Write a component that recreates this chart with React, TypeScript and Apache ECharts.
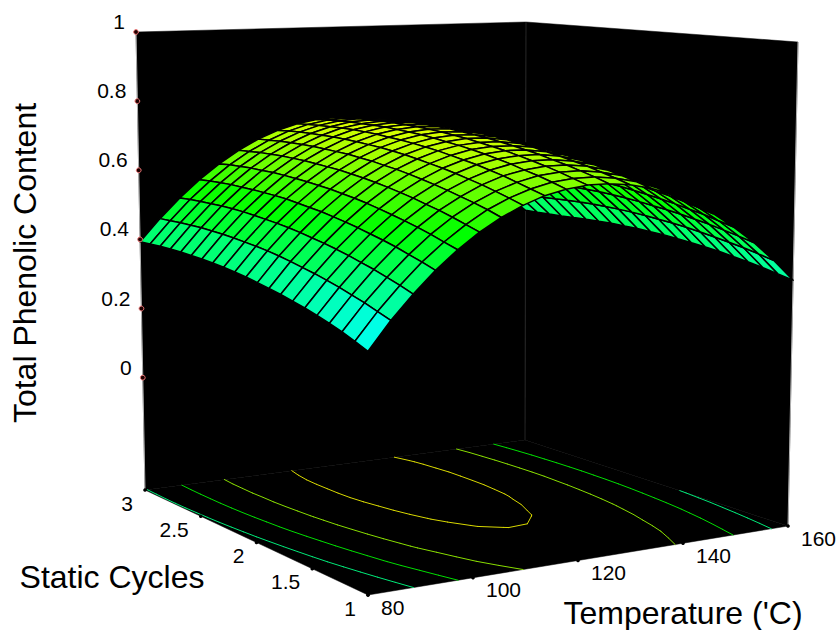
import React, { useEffect, useRef } from "react";
import * as echarts from "echarts";

const temperatures = [80, 84, 88, 92, 96, 100, 104, 108, 112, 116, 120, 124, 128, 132, 136, 140, 144, 148, 152, 156, 160];
const cycles = [1, 1.1, 1.2, 1.3, 1.4, 1.5, 1.6, 1.7, 1.8, 1.9, 2, 2.1, 2.2, 2.3, 2.4, 2.5, 2.6, 2.7, 2.8, 2.9, 3];
// one row per cycles value, one column per temperature
const phenolic = [
  [0.272, 0.342, 0.402, 0.456, 0.503, 0.543, 0.576, 0.603, 0.624, 0.637, 0.644, 0.644, 0.638, 0.625, 0.605, 0.579, 0.546, 0.506, 0.46, 0.407, 0.348],
  [0.287, 0.355, 0.415, 0.469, 0.515, 0.555, 0.589, 0.615, 0.635, 0.649, 0.655, 0.656, 0.649, 0.636, 0.616, 0.589, 0.556, 0.516, 0.47, 0.417, 0.357],
  [0.301, 0.368, 0.427, 0.48, 0.527, 0.567, 0.6, 0.626, 0.646, 0.66, 0.666, 0.666, 0.659, 0.646, 0.626, 0.599, 0.566, 0.526, 0.479, 0.426, 0.366],
  [0.313, 0.379, 0.439, 0.492, 0.538, 0.578, 0.61, 0.637, 0.657, 0.669, 0.676, 0.676, 0.669, 0.655, 0.635, 0.608, 0.575, 0.534, 0.488, 0.434, 0.374],
  [0.324, 0.39, 0.449, 0.502, 0.548, 0.587, 0.62, 0.646, 0.666, 0.679, 0.685, 0.684, 0.677, 0.664, 0.643, 0.616, 0.582, 0.542, 0.495, 0.441, 0.381],
  [0.334, 0.4, 0.459, 0.511, 0.557, 0.597, 0.629, 0.655, 0.675, 0.687, 0.693, 0.693, 0.685, 0.671, 0.651, 0.624, 0.59, 0.549, 0.502, 0.448, 0.388],
  [0.343, 0.409, 0.468, 0.52, 0.566, 0.605, 0.637, 0.663, 0.682, 0.695, 0.701, 0.7, 0.692, 0.678, 0.658, 0.63, 0.596, 0.555, 0.508, 0.454, 0.393],
  [0.352, 0.417, 0.476, 0.528, 0.574, 0.613, 0.645, 0.67, 0.689, 0.702, 0.707, 0.706, 0.699, 0.684, 0.664, 0.636, 0.602, 0.561, 0.513, 0.459, 0.398],
  [0.359, 0.425, 0.483, 0.535, 0.581, 0.62, 0.652, 0.677, 0.696, 0.708, 0.713, 0.712, 0.704, 0.69, 0.669, 0.641, 0.607, 0.566, 0.518, 0.463, 0.402],
  [0.366, 0.432, 0.49, 0.542, 0.587, 0.626, 0.657, 0.683, 0.701, 0.713, 0.719, 0.717, 0.709, 0.695, 0.673, 0.645, 0.611, 0.57, 0.522, 0.467, 0.406],
  [0.373, 0.438, 0.496, 0.547, 0.593, 0.631, 0.663, 0.688, 0.706, 0.718, 0.723, 0.721, 0.713, 0.698, 0.677, 0.649, 0.614, 0.573, 0.525, 0.47, 0.408],
  [0.378, 0.443, 0.501, 0.552, 0.597, 0.636, 0.667, 0.692, 0.71, 0.722, 0.727, 0.725, 0.717, 0.702, 0.68, 0.652, 0.617, 0.575, 0.527, 0.472, 0.41],
  [0.383, 0.447, 0.505, 0.557, 0.601, 0.639, 0.671, 0.695, 0.713, 0.725, 0.73, 0.728, 0.719, 0.704, 0.682, 0.654, 0.618, 0.577, 0.528, 0.473, 0.411],
  [0.387, 0.451, 0.509, 0.56, 0.604, 0.642, 0.673, 0.698, 0.716, 0.727, 0.732, 0.73, 0.721, 0.706, 0.683, 0.655, 0.62, 0.578, 0.529, 0.474, 0.412],
  [0.39, 0.454, 0.512, 0.562, 0.607, 0.645, 0.675, 0.7, 0.718, 0.729, 0.733, 0.731, 0.722, 0.706, 0.684, 0.655, 0.62, 0.578, 0.529, 0.473, 0.411],
  [0.392, 0.456, 0.514, 0.564, 0.609, 0.646, 0.677, 0.701, 0.719, 0.729, 0.734, 0.731, 0.722, 0.706, 0.684, 0.655, 0.619, 0.577, 0.528, 0.472, 0.41],
  [0.394, 0.458, 0.515, 0.565, 0.609, 0.647, 0.677, 0.701, 0.719, 0.729, 0.733, 0.731, 0.721, 0.706, 0.683, 0.654, 0.618, 0.575, 0.526, 0.47, 0.408],
  [0.395, 0.458, 0.515, 0.566, 0.61, 0.647, 0.677, 0.701, 0.718, 0.729, 0.732, 0.73, 0.72, 0.704, 0.681, 0.652, 0.616, 0.573, 0.524, 0.468, 0.406],
  [0.395, 0.458, 0.515, 0.565, 0.609, 0.646, 0.676, 0.7, 0.717, 0.727, 0.731, 0.728, 0.718, 0.702, 0.679, 0.649, 0.613, 0.57, 0.521, 0.464, 0.405],
  [0.394, 0.457, 0.514, 0.564, 0.608, 0.644, 0.674, 0.698, 0.715, 0.725, 0.728, 0.725, 0.715, 0.699, 0.676, 0.646, 0.61, 0.567, 0.517, 0.46, 0.404],
  [0.393, 0.456, 0.512, 0.562, 0.605, 0.642, 0.672, 0.695, 0.712, 0.722, 0.725, 0.722, 0.712, 0.695, 0.672, 0.642, 0.605, 0.562, 0.512, 0.455, 0.403],
];
const contourLevels = [0.4, 0.5, 0.6, 0.7];
const contourColors = ["#00e878", "#00dd00", "#88dd00", "#d8d800"];
const zTicks = [0, 0.2, 0.4, 0.6, 0.8, 1];
const tempTicks = [80, 100, 120, 140, 160];
const cycleTicks = [1, 1.5, 2, 2.5, 3];
const Z_MIN = -0.325;
const Z_MAX = 1;
const CYAN_AT = 0.29;
const GREEN_AT = 0.53;
const YELLOW_AT = 0.76;

const FONT = "Liberation Sans, Arial, sans-serif";
type Pt = [number, number];

// projection frame of the box: corners at (temp min,cycle min), (max,min), (max,max), (min,max)
const floorFrame: Pt[] = [[368, 595], [788, 526], [525, 440], [145, 490]];
const topFrame: Pt[] = [[368, 54], [798, 42], [526, 22], [136, 32]];

function quadMap(q: Pt[]) {
  const [[x0, y0], [x1, y1], [x2, y2], [x3, y3]] = q;
  const dx1 = x1 - x2, dx2 = x3 - x2, sx = x0 - x1 + x2 - x3;
  const dy1 = y1 - y2, dy2 = y3 - y2, sy = y0 - y1 + y2 - y3;
  const den = dx1 * dy2 - dx2 * dy1;
  const g = (sx * dy2 - dx2 * sy) / den;
  const h = (dx1 * sy - sx * dy1) / den;
  const a = x1 - x0 + g * x1, b = x3 - x0 + h * x3;
  const d = y1 - y0 + g * y1, e = y3 - y0 + h * y3;
  return (u: number, v: number): Pt => {
    const w = 1 + g * u + h * v;
    return [(a * u + b * v + x0) / w, (d * u + e * v + y0) / w];
  };
}
const floorMap = quadMap(floorFrame);
const topMap = quadMap(topFrame);

const uOf = (t: number) => (t - temperatures[0]) / (temperatures[temperatures.length - 1] - temperatures[0]);
const vOf = (c: number) => (c - cycles[0]) / (cycles[cycles.length - 1] - cycles[0]);

function project(u: number, v: number, z: number): Pt {
  const t = (z - Z_MIN) / (Z_MAX - Z_MIN);
  const f = floorMap(u, v), p = topMap(u, v);
  return [f[0] + (p[0] - f[0]) * t, f[1] + (p[1] - f[1]) * t];
}
const mix = (a: Pt, b: Pt, t: number): Pt => [a[0] + (b[0] - a[0]) * t, a[1] + (b[1] - a[1]) * t];

function heat(z: number) {
  const c = (n: number) => Math.round(Math.max(0, Math.min(1, n)) * 255);
  if (z < GREEN_AT) return `rgb(0,255,${c((GREEN_AT - z) / (GREEN_AT - CYAN_AT))})`;
  return `rgb(${c((z - GREEN_AT) / (YELLOW_AT - GREEN_AT))},255,0)`;
}

// marching squares on the surface grid, segments in (u,v)
function contourSegments(level: number) {
  const segs: [Pt, Pt][] = [];
  const nU = temperatures.length, nV = cycles.length;
  for (let j = 0; j < nV - 1; j++) {
    for (let i = 0; i < nU - 1; i++) {
      const corners: [number, number, number][] = [
        [i, j, phenolic[j][i]],
        [i + 1, j, phenolic[j][i + 1]],
        [i + 1, j + 1, phenolic[j + 1][i + 1]],
        [i, j + 1, phenolic[j + 1][i]],
      ];
      const hits: Pt[] = [];
      for (let k = 0; k < 4; k++) {
        const a = corners[k], b = corners[(k + 1) % 4];
        if ((a[2] < level) !== (b[2] < level)) {
          const t = (level - a[2]) / (b[2] - a[2]);
          hits.push([(a[0] + (b[0] - a[0]) * t) / (nU - 1), (a[1] + (b[1] - a[1]) * t) / (nV - 1)]);
        }
      }
      if (hits.length >= 2) segs.push([hits[0], hits[1]]);
      if (hits.length === 4) segs.push([hits[2], hits[3]]);
    }
  }
  return segs;
}

export default function App() {
  const ref = useRef<HTMLDivElement>(null);
  useEffect(() => {
    if (!ref.current) return;
    const chart = echarts.init(ref.current, undefined, { renderer: "svg" });

    const px = (api: any, p: Pt): Pt => api.coord(p) as Pt;

    const cells: number[][] = [];
    for (let i = temperatures.length - 2; i >= 0; i--) {
      for (let j = cycles.length - 2; j >= 0; j--) cells.push([i, j]);
    }

    const leftEdge = (c: number) => mix(floorFrame[0], floorFrame[3], vOf(c));
    const frontEdge = (t: number) => mix(floorFrame[0], floorFrame[1], uOf(t));

    chart.setOption({
      animation: false,
      backgroundColor: "#ffffff",
      grid: { left: 0, right: 0, top: 0, bottom: 0 },
      xAxis: { type: "value", min: 0, max: 837, show: false },
      yAxis: { type: "value", min: 0, max: 630, inverse: true, show: false },
      series: [
        {
          type: "custom",
          name: "box",
          coordinateSystem: "cartesian2d",
          silent: true,
          clip: false,
          data: [[0]],
          encode: { x: 0, y: 0 },
          renderItem: (_p: any, api: any) => {
            const P = (u: number, v: number, z: number) => px(api, project(u, v, z));
            const face = (pts: Pt[]) => ({
              type: "polygon",
              shape: { points: pts },
              style: { fill: "#000000", stroke: "#000000", lineWidth: 0.5 },
            });
            const edge = (a: Pt, b: Pt, stroke: string, w: number) => ({
              type: "line",
              shape: { x1: a[0], y1: a[1], x2: b[0], y2: b[1] },
              style: { stroke, lineWidth: w },
            });
            return {
              type: "group",
              children: [
                face([P(0, 1, Z_MIN), P(1, 1, Z_MIN), P(1, 1, Z_MAX), P(0, 1, Z_MAX)]),
                face([P(1, 1, Z_MIN), P(1, 0, Z_MIN), P(1, 0, Z_MAX), P(1, 1, Z_MAX)]),
                face([P(0, 0, Z_MIN), P(1, 0, Z_MIN), P(1, 1, Z_MIN), P(0, 1, Z_MIN)]),
                edge(P(1, 1, Z_MIN), P(1, 1, Z_MAX), "#262626", 1),
                edge(P(0, 1, Z_MIN), P(0, 1, Z_MAX), "#b0b0b0", 1),
                edge(P(1, 0, Z_MIN), P(1, 0, Z_MAX), "#b0b0b0", 1),
              ],
            };
          },
        },
        ...contourLevels.map((level, idx) => ({
          type: "custom",
          name: `contour ${level}`,
          coordinateSystem: "cartesian2d",
          silent: true,
          clip: false,
          data: contourSegments(level).map((s) => [s[0][0], s[0][1], s[1][0], s[1][1]]),
          encode: { x: 0, y: 1 },
          renderItem: (_p: any, api: any) => {
            const a = px(api, floorMap(api.value(0), api.value(1)));
            const b = px(api, floorMap(api.value(2), api.value(3)));
            return {
              type: "line",
              shape: { x1: a[0], y1: a[1], x2: b[0], y2: b[1] },
              style: { stroke: contourColors[idx], lineWidth: 1, lineCap: "round" },
            };
          },
        })),
        {
          type: "custom",
          name: "Total Phenolic Content",
          coordinateSystem: "cartesian2d",
          silent: true,
          clip: false,
          data: cells,
          encode: { x: 0, y: 1 },
          renderItem: (_p: any, api: any) => {
            const i = api.value(0), j = api.value(1);
            const nU = temperatures.length - 1, nV = cycles.length - 1;
            const z = (a: number, b: number) => phenolic[b][a];
            const P = (a: number, b: number) => px(api, project(a / nU, b / nV, z(a, b)));
            const mean = (z(i, j) + z(i + 1, j) + z(i + 1, j + 1) + z(i, j + 1)) / 4;
            return {
              type: "polygon",
              shape: { points: [P(i, j), P(i + 1, j), P(i + 1, j + 1), P(i, j + 1)] },
              style: { fill: heat(mean), stroke: "#000000", lineWidth: 1.5, lineJoin: "round" },
            };
          },
        },
        {
          type: "custom",
          name: "z axis",
          coordinateSystem: "cartesian2d",
          silent: true,
          clip: false,
          data: zTicks.map((t) => [t]),
          encode: { x: 0, y: 0 },
          renderItem: (_p: any, api: any) => {
            const t = api.value(0);
            const p = px(api, project(0, 1, t));
            return {
              type: "group",
              children: [
                {
                  type: "circle",
                  shape: { cx: p[0], cy: p[1], r: 2.4 },
                  style: { fill: "#200000", stroke: "#f07a7a", lineWidth: 1 },
                },
                {
                  type: "text",
                  style: {
                    x: p[0] - 11,
                    y: p[1] - 10.5,
                    text: String(t),
                    fill: "#000000",
                    font: `21px ${FONT}`,
                    align: "right",
                    verticalAlign: "middle",
                  },
                },
              ],
            };
          },
        },
        {
          type: "custom",
          name: "cycles axis",
          coordinateSystem: "cartesian2d",
          silent: true,
          clip: false,
          data: cycleTicks.map((t) => [t]),
          encode: { x: 0, y: 0 },
          renderItem: (_p: any, api: any) => {
            const t = api.value(0);
            const p = px(api, leftEdge(t));
            return {
              type: "group",
              children: [
                { type: "circle", shape: { cx: p[0], cy: p[1], r: 1.8 }, style: { fill: "#000000" } },
                {
                  type: "text",
                  style: {
                    x: p[0] - 12,
                    y: p[1] + 13,
                    text: String(t),
                    fill: "#000000",
                    font: `21px ${FONT}`,
                    align: "right",
                    verticalAlign: "middle",
                  },
                },
              ],
            };
          },
        },
        {
          type: "custom",
          name: "temperature axis",
          coordinateSystem: "cartesian2d",
          silent: true,
          clip: false,
          data: tempTicks.map((t) => [t]),
          encode: { x: 0, y: 0 },
          renderItem: (_p: any, api: any) => {
            const t = api.value(0);
            const p = px(api, frontEdge(t));
            return {
              type: "group",
              children: [
                { type: "circle", shape: { cx: p[0], cy: p[1], r: 1.8 }, style: { fill: "#000000" } },
                {
                  type: "text",
                  style: {
                    x: p[0] + 13,
                    y: p[1] + 12,
                    text: String(t),
                    fill: "#000000",
                    font: `21px ${FONT}`,
                    align: "left",
                    verticalAlign: "middle",
                  },
                },
              ],
            };
          },
        },
      ],
      graphic: [
        {
          type: "text",
          x: 25,
          y: 263,
          rotation: Math.PI / 2,
          style: { text: "Total Phenolic Content", fill: "#000", font: `32px ${FONT}`, align: "center", verticalAlign: "middle" },
        },
        {
          type: "text",
          x: 112,
          y: 577,
          style: { text: "Static Cycles", fill: "#000", font: `32px ${FONT}`, align: "center", verticalAlign: "middle" },
        },
        {
          type: "text",
          x: 683,
          y: 613,
          style: { text: "Temperature ('C)", fill: "#000", font: `32px ${FONT}`, align: "center", verticalAlign: "middle" },
        },
      ],
    });
    return () => chart.dispose();
  }, []);
  return <div ref={ref} style={{ position: "absolute", left: 0, top: 0, width: 837, height: 630 }} />;
}
